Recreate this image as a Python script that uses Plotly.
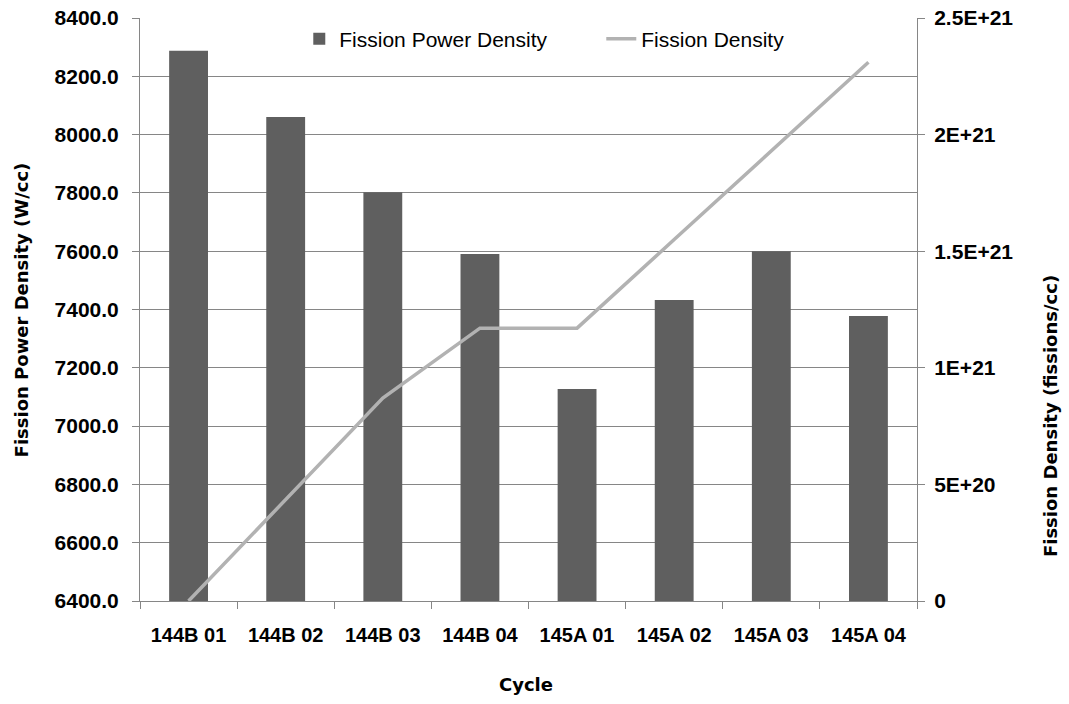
import plotly.graph_objects as go

cycles = ["144B 01", "144B 02", "144B 03", "144B 04", "145A 01", "145A 02", "145A 03", "145A 04"]
power_density = [8288, 8060, 7802, 7590, 7127, 7433, 7600, 7378]
fission_density = [0, 4.35e20, 8.70e20, 1.17e21, 1.17e21, 1.55e21, 1.93e21, 2.31e21]

left_ticks = [6400, 6600, 6800, 7000, 7200, 7400, 7600, 7800, 8000, 8200, 8400]
right_ticks = [0, 5e20, 1e21, 1.5e21, 2e21, 2.5e21]
right_labels = ["0", "5E+20", "1E+21", "1.5E+21", "2E+21", "2.5E+21"]

tick_font = dict(family="Liberation Sans, Arial, sans-serif", size=21, color="#000000", weight="bold")
title_font = dict(family="DejaVu Sans, sans-serif", size=18, color="#000000", weight="bold")
axis_color = "#868686"

fig = go.Figure()
fig.add_trace(go.Bar(
    x=cycles, y=power_density, name="Fission Power Density",
    marker=dict(color="#5f5f5f", line=dict(width=0)), width=0.4,
))
fig.add_trace(go.Scatter(
    x=cycles, y=fission_density, name="Fission Density", yaxis="y2",
    mode="lines", line=dict(color="#b2b2b2", width=3.5),
))

fig.update_layout(
    width=1069, height=704,
    margin=dict(l=140, r=152, t=18, b=103, autoexpand=False),
    paper_bgcolor="white", plot_bgcolor="white",
    showlegend=True,
    legend=dict(orientation="h", x=0.205, xanchor="left", y=0.999, yanchor="top",
                font=dict(family="Liberation Sans, Arial, sans-serif", size=21, color="#000000"),
                bgcolor="rgba(255,255,255,0)", entrywidth=257, entrywidthmode="pixels",
                traceorder="normal"),
    xaxis=dict(
        type="category", range=[-0.5, 7.5], showline=True, linecolor=axis_color, linewidth=1,
        ticks="outside", ticklen=7, tickcolor=axis_color, tickson="boundaries",
        tickfont=dict(family="Liberation Sans, Arial, sans-serif", size=20, color="#000000", weight="bold"),
        ticklabelstandoff=16, ticklabeloverflow="allow", automargin=False,
        showgrid=False,
    ),
    yaxis=dict(
        range=[6400, 8400], tickvals=left_ticks, tickformat=".1f",
        showline=True, linecolor=axis_color, linewidth=1,
        ticks="outside", ticklen=7, tickcolor=axis_color,
        showgrid=True, gridcolor=axis_color, gridwidth=1,
        tickfont=tick_font, zeroline=False, ticklabelstandoff=9,
        ticklabeloverflow="allow", automargin=False,
    ),
    yaxis2=dict(
        overlaying="y", side="right", range=[0, 2.5e21],
        tickvals=right_ticks, ticktext=right_labels,
        showline=True, linecolor=axis_color, linewidth=1,
        ticks="outside", ticklen=7, tickcolor=axis_color,
        showgrid=False, zeroline=False, tickfont=tick_font, ticklabelstandoff=5,
        ticklabeloverflow="allow", automargin=False,
    ),
    annotations=[
        dict(text="Fission Power Density (W/cc)", xref="paper", yref="paper",
             x=-0.152, y=0.5, textangle=-90, showarrow=False, font=title_font,
             xanchor="center", yanchor="middle"),
        dict(text="Fission Density (fissions/cc)", xref="paper", yref="paper",
             x=1.171, y=0.317, textangle=-90, showarrow=False, font=title_font,
             xanchor="center", yanchor="middle"),
        dict(text="Cycle", xref="paper", yref="paper",
             x=0.497, y=-0.144, showarrow=False, font=title_font,
             xanchor="center", yanchor="middle"),
    ],
)

fig.write_html("out.html", config={"displayModeBar": False},
               post_script="document.body.style.margin='0';")
